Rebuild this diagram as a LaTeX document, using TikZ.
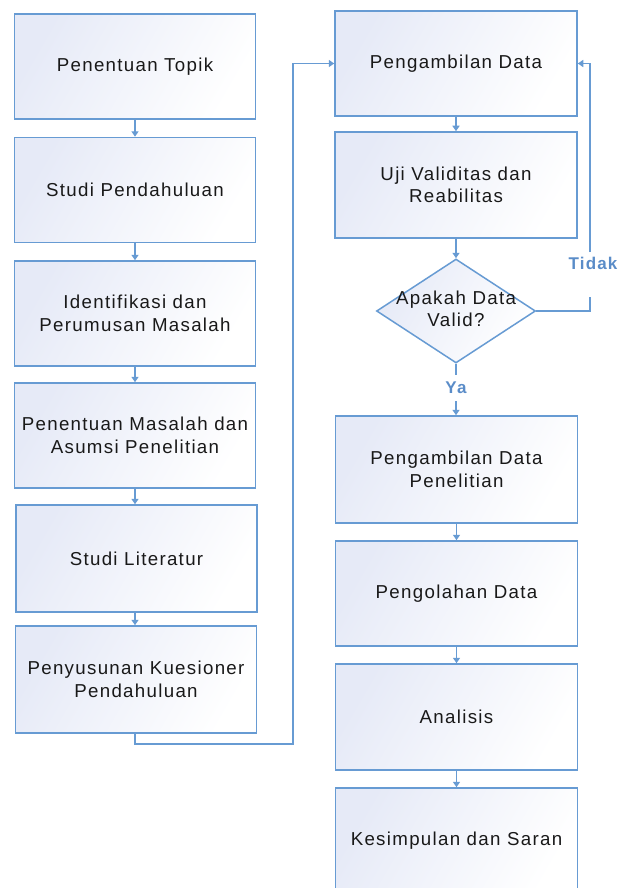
\documentclass[tikz,border=0pt]{standalone}
\usepackage{fontspec}
\setmainfont[LetterSpace=7]{Liberation Sans}
\usetikzlibrary{arrows.meta,shapes.geometric}
\definecolor{edge}{RGB}{103,155,211}
\definecolor{fillA}{RGB}{230,234,247}
\definecolor{txt}{RGB}{25,25,25}
\definecolor{lbl}{RGB}{90,140,200}
\tikzset{
  box/.style={draw=edge, line width=1.5pt, minimum width=241pt, minimum height=105pt,
    inner sep=0pt, shading=axis, top color=fillA, middle color=white!92!fillA, bottom color=white, shading angle=60,
    font=\fontsize{18.7}{22.5}\selectfont, text=txt, align=center},
  dia/.style={draw=edge, line width=1.5pt, diamond, aspect=1.53, minimum width=159pt, minimum height=104pt,
    inner sep=0pt, shading=axis, top color=fillA, middle color=white!92!fillA, bottom color=white, shading angle=60},
  dtext/.style={font=\fontsize{18.7}{22.5}\selectfont, text=txt, align=center, inner sep=0pt},
  conn/.style={draw=edge, line width=1.5pt},
  arr/.style={conn, -{Triangle[width=7pt,length=5.5pt]}},
  lab/.style={text=lbl, font=\bfseries\fontsize{17}{20}\selectfont}
}
\begin{document}
\begin{tikzpicture}[x=1pt,y=-1pt]
\useasboundingbox (0,0) rectangle (618,888);
\begin{scope}
\clip (0,0) rectangle (618,888);
% left column
\node[box] (l1) at (135,66.5) {Penentuan Topik};
\node[box] (l2) at (135,190) {Studi Pendahuluan};
\node[box] (l3) at (135,313.5) {Identifikasi dan\\Perumusan Masalah};
\node[box] (l4) at (135,435.5) {Penentuan Masalah dan\\Asumsi Penelitian};
\node[box,minimum width=241pt,minimum height=107pt] (l5) at (136.5,558.5) {Studi Literatur};
\node[box,minimum height=107pt] (l6) at (136,679.5) {Penyusunan Kuesioner\\Pendahuluan};
% right column
\node[box,minimum width=242pt] (r1) at (456,63.5) {Pengambilan Data};
\node[box,minimum width=242pt,minimum height=106pt] (r2) at (456,185) {Uji Validitas dan\\Reabilitas};
\node[dia] (d) at (456,311) {};
\node[dtext] (dt) at (456,309) {Apakah Data\\Valid?};
\node[box,minimum width=242pt,minimum height=107pt] (r3) at (456.5,469.5) {Pengambilan Data\\Penelitian};
\node[box,minimum width=242pt] (r4) at (456.5,593.5) {Pengolahan Data};
\node[box,minimum width=242pt,minimum height=106pt] (r5) at (456.5,717) {Analisis};
\node[box,minimum width=242pt,minimum height=106pt] (r6) at (456.5,841) {Kesimpulan dan Saran};
\end{scope}
% labels
\node[lab] (tidak) at (593,263) {Tidak};
\node[lab] (ya) at (456,388) {Ya};
% connectors
\draw[arr] (l1) -- (l2);
\draw[arr] (l2) -- (l3);
\draw[arr] (l3) -- (l4);
\draw[arr] (l4.south -| l3.south) -- (l5.north -| l3.south);
\draw[arr] (l5.south -| l3.south) -- (l6.north -| l3.south);
\coordinate (c1) at (293,744);
\draw[arr] (l6.south -| l3.south) |- (c1) |- (r1.west);
\draw[arr] (r1) -- (r2);
\draw[arr] (r2) -- (d.north);
\coordinate (t1) at (590,297);
\coordinate (t2) at (590,252);
\draw[conn] (d.east) -| (t1);
\draw[arr] (t2) |- (r1.east);
\coordinate (y1) at (456,375);
\coordinate (y2) at (456,401);
\draw[conn] (d.south) -- (y1);
\draw[arr] (y2) -- (y2 |- r3.north);
\draw[arr] (r3) -- (r4);
\draw[arr] (r4) -- (r5);
\draw[arr] (r5) -- (r6);
\end{tikzpicture}
\end{document}
